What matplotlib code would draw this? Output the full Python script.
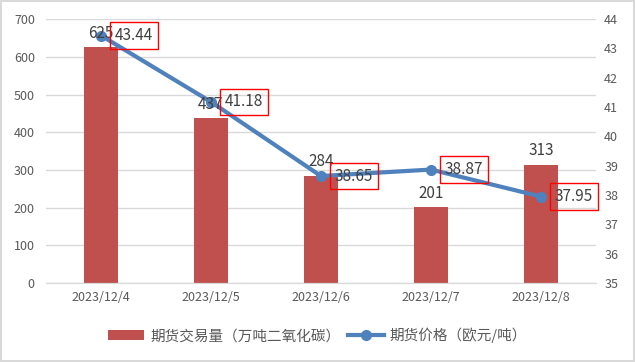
import numpy as np
import matplotlib.pyplot as plt

plt.rcParams['font.family'] = ['Noto Sans CJK SC', 'DejaVu Sans']

dates = ['2023/12/4', '2023/12/5', '2023/12/6', '2023/12/7', '2023/12/8']
volume = [625, 437, 284, 201, 313]
price = [43.44, 41.18, 38.65, 38.87, 37.95]

bar_color = '#C0504D'
line_color = '#4F81BD'
text_color = '#595959'

fig = plt.figure(figsize=(6.35, 3.62), dpi=100)
fig.patch.set_edgecolor('#d9d9d9')
fig.patch.set_linewidth(1.5)
ax = fig.add_axes([0.0724, 0.218, 0.866, 0.7293])
ax2 = ax.twinx()

x = np.arange(len(dates))
bars = ax.bar(x, volume, width=0.31, color=bar_color, zorder=2)
ax.set_xlim(-0.5, len(dates) - 0.5)
ax.set_ylim(0, 700)
ax.set_yticks(range(0, 701, 100))
ax.grid(axis='y', color='#d9d9d9', linewidth=1, zorder=0)
ax.set_axisbelow(True)
ax.set_xticks(x)
ax.set_xticklabels(dates)

line, = ax2.plot(x, price, color=line_color, linewidth=3, marker='o',
                 markersize=7, zorder=3)
ax2.set_ylim(35, 44)
ax2.set_yticks(range(35, 45))

# volume labels drawn on the top axes so the line does not hide them
for xi, v in zip(x, volume):
    ax2.annotate(str(v), (xi, v), xycoords=ax.transData, xytext=(0, 4),
                 textcoords='offset points', ha='center', va='bottom',
                 fontsize=11, color='#404040', zorder=5)

for xi, p in zip(x, price):
    ax2.annotate(f'{p:.2f}', (xi, p), xytext=(10, 0), textcoords='offset points',
                 ha='left', va='center', fontsize=11, color='#404040',
                 bbox=dict(boxstyle='square,pad=0.3', fc='none', ec='red', lw=1),
                 zorder=6)

for a in (ax, ax2):
    for s in ('top', 'left', 'right'):
        a.spines[s].set_visible(False)
    a.spines['bottom'].set_color('#d9d9d9')
    a.tick_params(axis='both', length=0, labelsize=9, labelcolor=text_color)
ax.tick_params(axis='y', pad=8)
ax2.tick_params(axis='y', pad=6)
ax.tick_params(axis='x', pad=6)

fig.legend([bars, line], ['期货交易量（万吨二氧化碳）', '期货价格（欧元/吨）'],
           loc='center', bbox_to_anchor=(0.5, 0.073), ncol=2, frameon=False,
           fontsize=10.5, labelcolor=text_color, handlelength=2.5,
           columnspacing=0.5, handletextpad=0.4)

fig.savefig('out.png', dpi=100, edgecolor=fig.get_edgecolor())
